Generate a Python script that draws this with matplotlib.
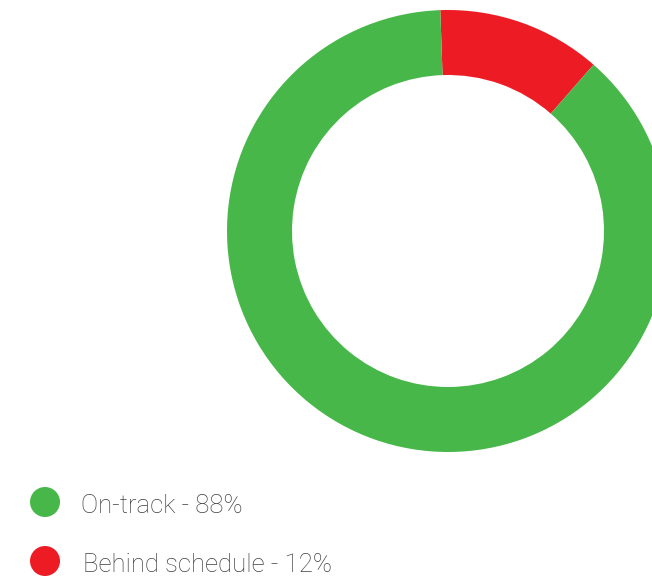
import matplotlib
matplotlib.use("Agg")
import matplotlib.pyplot as plt
from matplotlib.patches import Circle

# schedule status breakdown
labels = ["Behind schedule", "On-track"]
shares = [12, 88]
colors = ["#ed1c24", "#48b749"]

legend_order = ["On-track", "Behind schedule"]

W, H = 652, 576
fig = plt.figure(figsize=(W / 100, H / 100), dpi=100)

# donut, centred at (448, 231) px with outer radius 221 px
cx, cy, r = 448, 231, 221
ax = fig.add_axes([(cx - r) / W, (H - cy - r) / H, 2 * r / W, 2 * r / H])
ax.pie(shares, colors=colors, startangle=92, counterclock=False, radius=1,
       wedgeprops=dict(width=1 - 156 / 221, linewidth=0))
ax.set_xlim(-1, 1)
ax.set_ylim(-1, 1)
ax.set_aspect("equal")
ax.axis("off")

# legend drawn in pixel space
lg = fig.add_axes([0, 0, 1, 1])
lg.set_xlim(0, W)
lg.set_ylim(H, 0)
lg.axis("off")
for i, name in enumerate(legend_order):
    k = labels.index(name)
    y = 502 + i * 59
    lg.add_patch(Circle((45, y), 15, color=colors[k], linewidth=0))
    lg.text(81 + i * 2, y + 11, f"{name} - {shares[k]}%", va="baseline", ha="left",
            fontsize=18.5, color="#404040", family=["Roboto", "DejaVu Sans"],
            fontweight="light")

fig.savefig("out.png", dpi=100)
